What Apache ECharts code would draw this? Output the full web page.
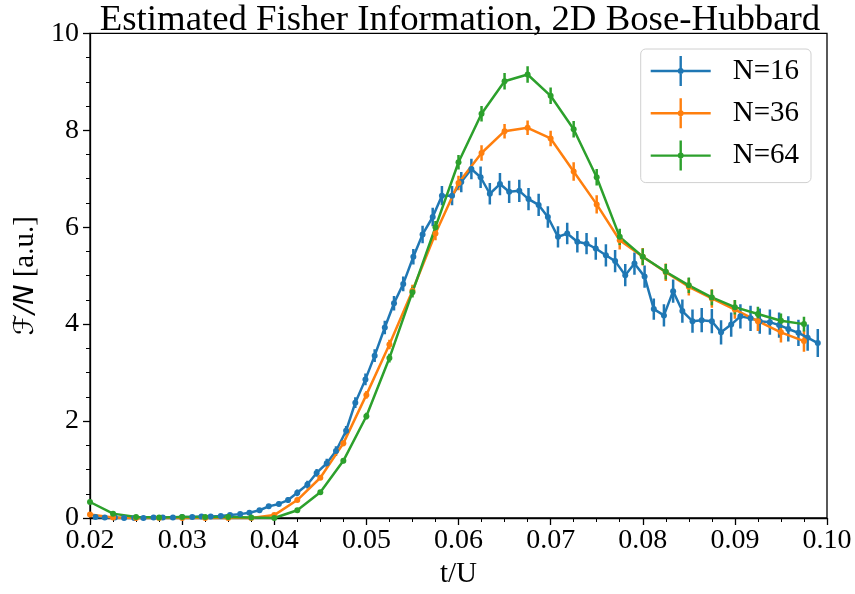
<!DOCTYPE html>
<html>
<head>
<meta charset="utf-8">
<script src="https://cdn.jsdelivr.net/npm/echarts@6/dist/echarts.min.js"></script>
<style>html,body{margin:0;padding:0;background:#fff;overflow:hidden}#c{width:855px;height:594px}</style>
</head>
<body>
<div id="c"></div>
<script>
// ---- data ----
const seriesNames = ['N=16', 'N=36', 'N=64'];
const colors = ['#1f77b4', '#ff7f0e', '#2ca02c'];
const xTicks = [0.02, 0.03, 0.04, 0.05, 0.06, 0.07, 0.08, 0.09, 0.10];
const yTicks = [0, 2, 4, 6, 8, 10];

const x16 = [0.0206,0.0216,0.0227,0.0237,0.0248,0.0258,0.0269,0.0279,0.0290,0.0300,
  0.0311,0.0321,0.0331,0.0342,0.0352,0.0363,0.0373,0.0384,0.0394,0.0405,
  0.0415,0.0425,0.0436,0.0446,0.0457,0.0467,0.0478,0.0488,0.0499,0.0509,
  0.0520,0.0530,0.0540,0.0551,0.0561,0.0572,0.0582,0.0593,0.0603,0.0614,
  0.0624,0.0634,0.0645,0.0655,0.0666,0.0676,0.0687,0.0697,0.0708,0.0718,
  0.0729,0.0739,0.0749,0.0760,0.0770,0.0781,0.0791,0.0802,0.0812,0.0823,
  0.0833,0.0843,0.0854,0.0864,0.0875,0.0885,0.0896,0.0906,0.0917,0.0927,
  0.0938,0.0948,0.0958,0.0969,0.0979,0.0990];
const y16 = [0.02,0.01,0.01,0.00,0.00,0.00,0.01,0.01,0.01,0.02,
  0.02,0.03,0.03,0.04,0.06,0.08,0.11,0.16,0.24,0.29,
  0.37,0.52,0.69,0.93,1.13,1.38,1.80,2.38,2.86,3.35,
  3.93,4.43,4.83,5.39,5.85,6.21,6.65,6.65,6.93,7.20,
  7.03,6.69,6.89,6.73,6.75,6.58,6.46,6.21,5.80,5.87,
  5.70,5.66,5.56,5.42,5.30,5.01,5.25,4.98,4.31,4.18,
  4.68,4.27,4.06,4.08,4.06,3.83,3.99,4.16,4.12,4.06,
  4.04,3.98,3.90,3.82,3.72,3.61];
const e16 = [0.02,0.02,0.02,0.02,0.02,0.02,0.02,0.02,0.02,0.02,
  0.02,0.02,0.02,0.03,0.03,0.03,0.04,0.04,0.05,0.05,
  0.06,0.07,0.08,0.08,0.09,0.10,0.10,0.11,0.12,0.13,
  0.14,0.15,0.15,0.16,0.18,0.19,0.20,0.20,0.21,0.21,
  0.22,0.22,0.23,0.23,0.23,0.23,0.23,0.22,0.22,0.22,
  0.22,0.22,0.23,0.23,0.23,0.23,0.23,0.23,0.22,0.23,
  0.24,0.24,0.24,0.25,0.25,0.25,0.25,0.25,0.26,0.26,
  0.26,0.26,0.26,0.27,0.27,0.29];

const x36 = [0.02,0.0225,0.025,0.0275,0.03,0.0325,0.035,0.0375,
  0.04,0.0425,0.045,0.0475,0.05,0.0525,0.055,0.0575,
  0.06,0.0625,0.065,0.0675,0.07,0.0725,0.075,0.0775,
  0.08,0.0825,0.085,0.0875,0.09,0.0925,0.095,0.0975];
const y36 = [0.07,0.01,0.00,0.00,0.00,0.00,0.00,0.00,
  0.06,0.37,0.83,1.54,2.54,3.58,4.69,5.87,
  6.91,7.53,7.98,8.05,7.83,7.15,6.47,5.73,
  5.39,5.07,4.77,4.53,4.30,4.06,3.83,3.65];
const e36 = [0.01,0.01,0.01,0.01,0.01,0.01,0.01,0.01,
  0.02,0.03,0.04,0.06,0.08,0.10,0.12,0.14,
  0.15,0.16,0.15,0.15,0.16,0.19,0.19,0.19,
  0.18,0.18,0.18,0.19,0.19,0.20,0.21,0.22];

const x64 = x36;
const y64 = [0.33,0.09,0.02,0.01,0.02,0.02,0.02,0.01,
  0.00,0.16,0.53,1.18,2.10,3.30,4.66,6.00,
  7.34,8.34,9.01,9.15,8.71,8.02,7.03,5.80,
  5.39,5.08,4.80,4.55,4.35,4.21,4.07,4.00];
const e64 = [0.01,0.01,0.01,0.01,0.01,0.01,0.01,0.01,
  0.01,0.02,0.03,0.05,0.07,0.09,0.11,0.13,
  0.15,0.16,0.17,0.17,0.17,0.17,0.17,0.17,
  0.17,0.16,0.16,0.16,0.15,0.15,0.15,0.15];

// ---- build ----
const xs = [x16, x36, x64], ys = [y16, y36, y64], es = [e16, e36, e64];
const serif = '"Liberation Serif","Times New Roman",serif';
const series = [];
for (let s = 0; s < 3; s++) {
  const errData = xs[s].map((x, i) => [x, ys[s][i] - es[s][i], ys[s][i] + es[s][i]]);
  const col = colors[s];
  series.push({
    type: 'custom',
    name: seriesNames[s] + '_err',
    data: errData,
    encode: { x: 0, y: [1, 2] },
    clip: true,
    silent: true,
    renderItem: function (params, api) {
      const p1 = api.coord([api.value(0), api.value(1)]);
      const p2 = api.coord([api.value(0), api.value(2)]);
      return { type: 'line', shape: { x1: p1[0], y1: p1[1], x2: p2[0], y2: p2[1] },
        style: { stroke: col, lineWidth: 2.5 } };
    }
  });
  series.push({
    type: 'line',
    name: seriesNames[s],
    data: xs[s].map((x, i) => [x, ys[s][i]]),
    symbol: 'circle',
    symbolSize: 6,
    showSymbol: true,
    clip: true,
    lineStyle: { color: col, width: 2.5 },
    itemStyle: { color: col },
    emphasis: { disabled: true }
  });
}

const iconPath = 'path://M0,13.8L60,13.8L60,16.2L0,16.2Z M28.8,0L31.2,0L31.2,30L28.8,30Z M30,12 A3,3 0 1,1 30,18 A3,3 0 1,1 30,12Z';

const chart = echarts.init(document.getElementById('c'), null, { renderer: 'canvas' });
chart.setOption({
  animation: false,
  backgroundColor: '#fff',
  color: colors,
  title: {
    text: 'Estimated Fisher Information, 2D Bose-Hubbard',
    left: 455, top: -3, textAlign: 'center',
    textStyle: { fontFamily: serif, fontSize: 36.8, fontWeight: 'normal', color: '#000' }
  },
  legend: {
    data: seriesNames.map(n => ({ name: n, icon: iconPath })),
    orient: 'vertical',
    right: 44, top: 49,
    itemWidth: 60, itemHeight: 30, itemGap: 12.3,
    padding: [7, 12, 12, 10],
    backgroundColor: '#fff',
    borderColor: '#d0d0d0', borderWidth: 1, borderRadius: 5,
    textStyle: { fontFamily: serif, fontSize: 29, color: '#000', padding: [0, 0, 0, 17] },
    selectedMode: false
  },
  grid: { left: 90, right: 28, top: 33.3, bottom: 72, show: true, borderColor: '#000', borderWidth: 1.3, backgroundColor: 'transparent' },
  xAxis: {
    type: 'value', min: xTicks[0], max: xTicks[xTicks.length - 1], interval: 0.01,
    name: 't/U', nameLocation: 'middle', nameGap: 42,
    nameTextStyle: { fontFamily: serif, fontSize: 29, color: '#000' },
    axisLine: { show: true, onZero: false, lineStyle: { color: '#000', width: 1.3 } },
    axisTick: { show: true, inside: false, length: 7, lineStyle: { color: '#000', width: 1.3 } },
    minorTick: { show: true, splitNumber: 4, length: 4, lineStyle: { color: '#000', width: 1 } },
    splitLine: { show: false },
    axisLabel: { fontFamily: serif, fontSize: 28, color: '#000', margin: 9,
      formatter: v => v.toFixed(2), showMinLabel: true, showMaxLabel: true }
  },
  yAxis: {
    type: 'value', min: yTicks[0], max: yTicks[yTicks.length - 1], interval: 2,
    name: '{f|ℱ}{n|/N}{t| [a.u.]}', nameLocation: 'middle', nameGap: 47, nameRotate: 90,
    nameTextStyle: {
      color: '#000',
      rich: {
        f: { fontFamily: '"DejaVu Sans"', fontStyle: 'italic', fontSize: 27, color: '#000' },
        n: { fontFamily: '"DejaVu Sans"', fontStyle: 'italic', fontSize: 27, color: '#000' },
        t: { fontFamily: serif, fontSize: 29, color: '#000' }
      }
    },
    axisLine: { show: true, onZero: false, lineStyle: { color: '#000', width: 1.3 } },
    axisTick: { show: true, inside: false, length: 7, lineStyle: { color: '#000', width: 1.3 } },
    minorTick: { show: true, splitNumber: 4, length: 4, lineStyle: { color: '#000', width: 1 } },
    splitLine: { show: false },
    axisLabel: { fontFamily: serif, fontSize: 28, color: '#000', margin: 11 }
  },
  series: series
});
</script>
</body>
</html>
